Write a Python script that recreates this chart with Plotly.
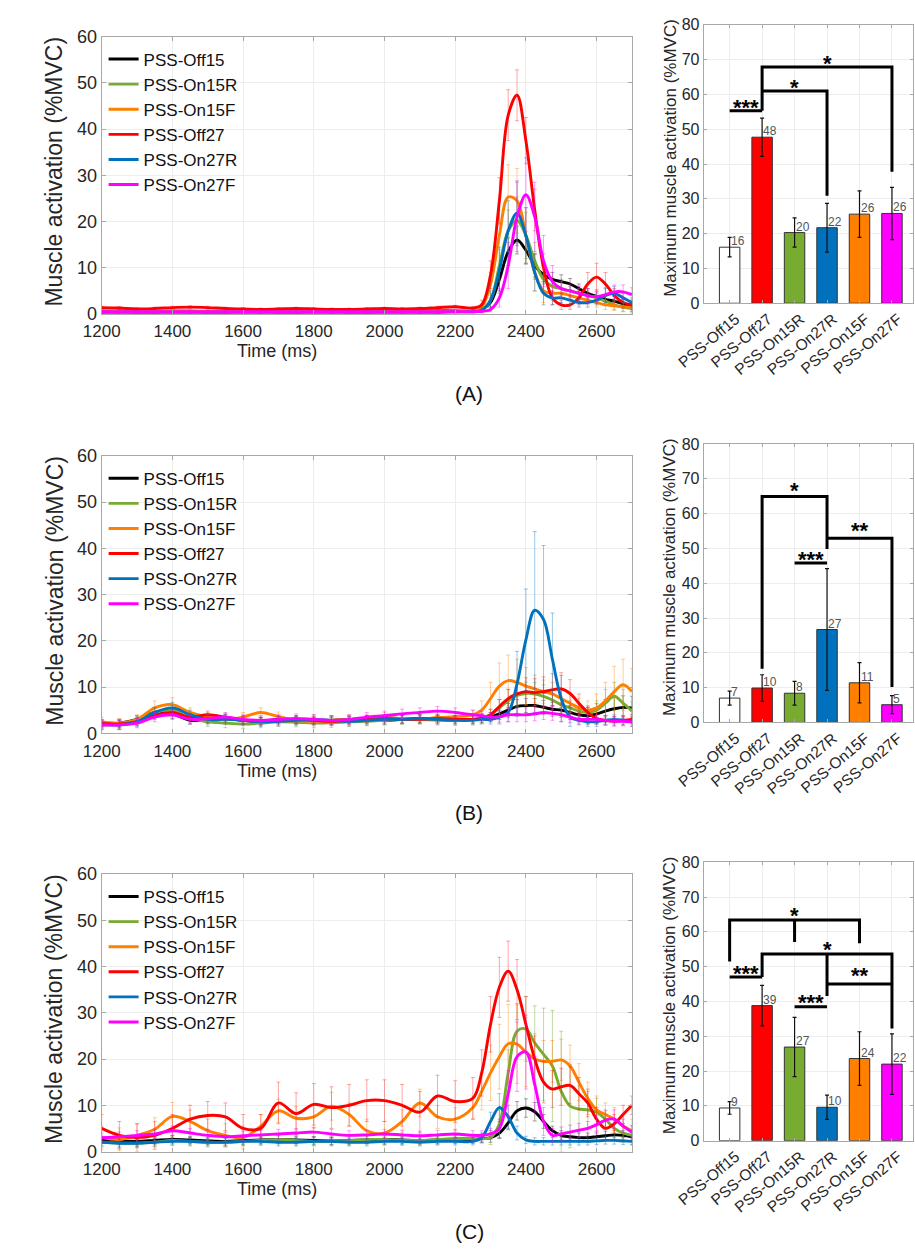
import plotly.graph_objects as go

# ---------------- data ----------------
T = [1200, 1250, 1300, 1350, 1400, 1450, 1500, 1550, 1600, 1650, 1700, 1750, 1800, 1850,
     1900, 1950, 2000, 2050, 2100, 2150, 2200, 2250, 2275, 2300, 2325, 2350, 2375, 2400,
     2425, 2450, 2475, 2500, 2525, 2550, 2575, 2600, 2625, 2650, 2675, 2700]

series_names = ['PSS-Off15', 'PSS-On15R', 'PSS-On15F', 'PSS-Off27', 'PSS-On27R', 'PSS-On27F']
series_colors = ['#000000', '#77AC30', '#FF7F00', '#FF0000', '#0072BD', '#FF00FF']
series_err_colors = ['rgba(0,0,0,0.35)', 'rgba(119,172,48,0.45)', 'rgba(255,127,0,0.4)',
                     'rgba(255,0,0,0.35)', 'rgba(0,114,189,0.4)', 'rgba(255,0,255,0.4)']

# Panel A
A_off15 = [0.6, 0.6, 0.5, 0.5, 0.6, 0.6, 0.5, 0.5, 0.6, 0.6, 0.5, 0.5, 0.6, 0.6, 0.5, 0.5, 0.6, 0.6, 0.6, 0.7, 0.7, 0.6,
           1.0, 2.5, 7.5, 13.5, 16.0, 13.8, 10.5, 8.5, 7.5, 7.0, 6.5, 5.5, 4.5, 3.8, 3.2, 2.8, 2.2, 1.6]
A_on15r = [0.5, 0.5, 0.5, 0.5, 0.5, 0.5, 0.5, 0.5, 0.5, 0.5, 0.5, 0.5, 0.5, 0.5, 0.5, 0.5, 0.5, 0.5, 0.5, 0.5, 0.6, 0.6,
           1.0, 3.0, 10.5, 18.0, 20.3, 17.0, 11.5, 7.5, 6.0, 5.5, 5.0, 4.5, 4.0, 3.5, 2.8, 2.0, 1.5, 1.2]
A_on15f = [0.6, 0.6, 0.6, 0.6, 0.6, 0.6, 0.6, 0.6, 0.6, 0.6, 0.6, 0.6, 0.6, 0.6, 0.6, 0.6, 0.6, 0.6, 0.6, 0.6, 0.7, 0.7,
           1.5, 6.5, 17.0, 25.3, 24.5, 17.0, 9.0, 5.0, 4.5, 4.5, 4.0, 3.5, 3.0, 2.5, 2.0, 1.8, 1.6, 1.5]
A_off27 = [1.4, 1.3, 1.1, 1.2, 1.4, 1.5, 1.4, 1.2, 1.1, 1.0, 1.1, 1.2, 1.1, 1.0, 1.0, 1.1, 1.2, 1.1, 1.2, 1.4, 1.6, 1.3,
           2.0, 8.5, 24.5, 43.0, 47.3, 37.5, 22.5, 10.0, 3.5, 2.0, 2.0, 3.5, 6.5, 8.0, 6.5, 4.0, 2.5, 2.0]
A_on27r = [0.4, 0.4, 0.4, 0.4, 0.4, 0.4, 0.4, 0.4, 0.4, 0.4, 0.4, 0.4, 0.4, 0.4, 0.4, 0.4, 0.4, 0.4, 0.4, 0.4, 0.5, 0.5,
           0.8, 3.0, 9.5, 18.0, 21.8, 17.0, 9.0, 4.5, 3.5, 3.5, 3.0, 2.5, 2.5, 3.0, 4.0, 4.5, 3.5, 2.5]
A_on27f = [0.5, 0.5, 0.5, 0.5, 0.5, 0.5, 0.5, 0.5, 0.5, 0.5, 0.5, 0.5, 0.5, 0.5, 0.5, 0.5, 0.5, 0.5, 0.5, 0.5, 0.5, 0.5,
           0.6, 1.0, 3.5, 10.5, 21.0, 25.8, 21.0, 11.5, 7.0, 5.5, 5.0, 4.5, 4.0, 3.8, 4.2, 4.8, 4.8, 4.2]

A_off15_err = [0.2, 0.2, 0.2, 0.2, 0.2, 0.2, 0.2, 0.2, 0.2, 0.2, 0.2, 0.2, 0.2, 0.2, 0.2, 0.2, 0.2, 0.2, 0.2, 0.2, 0.2, 0.2,
               0.5, 1.0, 2.5, 3.0, 3.0, 3.0, 2.5, 2.0, 1.5, 1.5, 1.2, 1.0, 1.0, 1.0, 1.0, 1.0, 1.0, 1.0]
A_on15r_err = [0.2, 0.2, 0.2, 0.2, 0.2, 0.2, 0.2, 0.2, 0.2, 0.2, 0.2, 0.2, 0.2, 0.2, 0.2, 0.2, 0.2, 0.2, 0.2, 0.2, 0.2, 0.2,
               0.5, 1.5, 3.5, 4.5, 5.0, 5.0, 4.0, 3.0, 2.0, 1.5, 1.0, 1.0, 1.0, 1.0, 1.0, 1.0, 1.0, 1.0]
A_on15f_err = [0.2, 0.2, 0.2, 0.2, 0.2, 0.2, 0.2, 0.2, 0.2, 0.2, 0.2, 0.2, 0.2, 0.2, 0.2, 0.2, 0.2, 0.2, 0.2, 0.2, 0.2, 0.2,
               0.8, 2.5, 5.5, 7.0, 7.0, 6.0, 4.0, 2.5, 1.5, 1.0, 1.0, 1.0, 1.0, 1.0, 1.0, 1.0, 1.0, 1.0]
A_off27_err = [0.3, 0.3, 0.3, 0.3, 0.3, 0.3, 0.3, 0.3, 0.3, 0.3, 0.3, 0.3, 0.3, 0.3, 0.3, 0.3, 0.3, 0.3, 0.3, 0.3, 0.3, 0.3,
               1.0, 3.0, 5.0, 5.5, 5.5, 5.0, 4.5, 3.0, 1.5, 1.0, 1.0, 1.5, 2.5, 3.0, 2.5, 1.5, 1.0, 1.0]
A_on27r_err = [0.2, 0.2, 0.2, 0.2, 0.2, 0.2, 0.2, 0.2, 0.2, 0.2, 0.2, 0.2, 0.2, 0.2, 0.2, 0.2, 0.2, 0.2, 0.2, 0.2, 0.2, 0.2,
               0.5, 2.0, 5.0, 6.5, 7.0, 6.0, 4.0, 2.5, 1.5, 1.0, 1.0, 1.0, 1.0, 1.0, 1.5, 1.5, 1.0, 1.0]
A_on27f_err = [0.2, 0.2, 0.2, 0.2, 0.2, 0.2, 0.2, 0.2, 0.2, 0.2, 0.2, 0.2, 0.2, 0.2, 0.2, 0.2, 0.2, 0.2, 0.2, 0.2, 0.2, 0.2,
               0.3, 0.5, 2.0, 5.0, 7.5, 8.0, 7.5, 5.5, 3.5, 2.0, 1.5, 1.5, 1.5, 1.5, 1.5, 1.5, 1.5, 1.5]

# Panel B
B_off15 = [2.0, 2.2, 3.0, 4.5, 4.2, 2.8, 3.0, 3.2, 2.8, 2.6, 3.0, 2.8, 2.6, 2.8, 3.0, 3.0, 2.8, 3.0, 3.2, 3.0, 3.0, 3.0,
           3.2, 3.5, 4.2, 5.0, 5.8, 6.0, 6.0, 5.6, 5.2, 5.0, 4.5, 4.0, 3.8, 4.2, 4.8, 5.3, 5.6, 5.5]
B_on15r = [1.8, 2.0, 2.8, 4.5, 5.0, 3.2, 2.5, 2.2, 2.0, 2.2, 2.5, 2.4, 2.2, 2.3, 2.5, 2.6, 2.8, 3.0, 3.0, 2.8, 2.8, 3.0,
           3.3, 4.0, 5.5, 7.0, 8.2, 8.6, 8.5, 8.0, 7.2, 6.2, 5.5, 4.8, 4.5, 5.0, 6.5, 8.0, 6.5, 4.8]
B_on15f = [2.5, 2.2, 3.0, 5.5, 6.2, 4.5, 3.5, 3.0, 3.5, 4.5, 3.6, 2.8, 2.6, 2.8, 3.0, 3.0, 3.5, 3.2, 3.0, 3.4, 3.6, 4.0,
           5.0, 7.5, 10.2, 11.4, 11.0, 10.2, 9.6, 9.0, 8.5, 7.5, 6.5, 5.5, 5.0, 5.5, 7.0, 9.0, 10.5, 9.0]
B_off27 = [2.2, 2.0, 2.5, 3.8, 4.5, 3.5, 4.0, 3.5, 2.8, 2.6, 2.8, 3.0, 2.8, 2.6, 2.8, 3.0, 3.2, 3.0, 3.0, 3.2, 3.0, 3.0,
           3.2, 4.0, 5.8, 7.5, 8.5, 9.0, 8.8, 9.0, 9.4, 9.6, 8.6, 6.5, 4.5, 3.2, 2.8, 2.6, 2.8, 3.0]
B_on27r = [2.0, 1.8, 2.5, 4.5, 5.5, 4.0, 3.0, 3.0, 2.8, 2.5, 2.6, 2.8, 3.0, 2.8, 2.6, 2.8, 3.0, 3.0, 3.2, 3.0, 2.8, 2.8,
           3.0, 3.0, 3.5, 4.5, 10.7, 20.2, 26.6, 24.6, 16.0, 7.5, 3.5, 2.8, 2.5, 2.5, 2.8, 3.0, 2.8, 2.5]
B_on27f = [1.8, 1.8, 2.2, 3.5, 4.0, 3.0, 3.2, 3.5, 3.0, 2.8, 3.0, 3.2, 3.0, 2.8, 3.0, 3.5, 3.8, 4.2, 4.5, 4.8, 4.5, 4.0,
           3.8, 3.5, 3.6, 4.0, 4.0, 4.0, 4.2, 4.5, 4.3, 4.0, 3.5, 3.0, 3.0, 3.0, 2.8, 2.6, 2.6, 2.5]

B_off15_err = [0.8, 0.8, 0.8, 1.0, 1.0, 0.8, 0.8, 0.8, 0.8, 0.8, 0.8, 0.8, 0.8, 0.8, 0.8, 0.8, 0.8, 0.8, 0.8, 0.8, 0.8, 0.8,
               0.8, 1.0, 1.2, 1.5, 1.5, 1.5, 1.5, 1.5, 1.5, 1.5, 1.5, 1.5, 1.8, 2.2, 2.5, 2.5, 2.5, 2.5]
B_on15r_err = [1.0, 1.0, 1.0, 1.2, 1.2, 1.0, 1.0, 1.0, 1.0, 1.0, 1.0, 1.0, 1.0, 1.0, 1.0, 1.0, 1.0, 1.0, 1.0, 1.0, 1.0, 1.0,
               1.0, 1.2, 1.8, 2.5, 2.5, 2.5, 2.5, 2.5, 2.0, 1.8, 1.5, 1.5, 1.5, 2.0, 3.0, 3.0, 3.0, 2.0]
B_on15f_err = [1.0, 1.0, 1.0, 1.5, 1.5, 1.0, 1.0, 1.0, 1.0, 1.0, 1.0, 1.0, 1.0, 1.0, 1.0, 1.0, 1.0, 1.0, 1.0, 1.0, 1.0, 1.0,
               2.0, 3.5, 5.0, 5.5, 5.0, 4.0, 3.0, 2.5, 2.5, 2.0, 2.0, 2.0, 2.0, 3.0, 4.0, 5.5, 5.5, 5.0]
B_off27_err = [0.8, 0.8, 0.8, 0.8, 0.8, 0.8, 0.8, 0.8, 0.8, 0.8, 0.8, 0.8, 0.8, 0.8, 0.8, 0.8, 0.8, 0.8, 0.8, 0.8, 0.8, 0.8,
               1.0, 1.2, 1.5, 2.0, 2.5, 3.0, 3.0, 3.2, 3.5, 3.5, 3.0, 2.0, 1.2, 1.0, 1.0, 1.0, 1.0, 1.0]
B_on27r_err = [1.0, 1.0, 1.0, 1.0, 1.2, 1.0, 1.0, 1.0, 1.0, 1.0, 1.0, 1.0, 1.0, 1.0, 1.0, 1.0, 1.0, 1.0, 1.0, 1.0, 1.0, 1.0,
               1.0, 1.0, 1.5, 2.0, 7.0, 11.0, 17.0, 16.0, 10.0, 5.0, 2.0, 1.0, 1.0, 1.0, 1.0, 1.0, 1.0, 1.0]
B_on27f_err = [1.0, 1.0, 1.0, 1.0, 1.0, 1.0, 1.0, 1.0, 1.0, 1.0, 1.0, 1.0, 1.0, 1.0, 1.0, 1.0, 1.0, 1.0, 1.0, 1.0, 1.0, 1.0,
               1.0, 1.0, 1.2, 1.5, 1.5, 1.5, 1.5, 1.5, 1.5, 1.5, 1.2, 1.0, 1.0, 1.0, 1.0, 1.0, 1.0, 1.0]

# Panel C
C_off15 = [2.5, 2.3, 2.2, 2.4, 2.6, 2.5, 2.3, 2.2, 2.4, 2.5, 2.6, 2.5, 2.4, 2.3, 2.4, 2.5, 2.6, 2.5, 2.4, 2.5, 2.6, 2.6,
           2.8, 3.0, 4.0, 6.2, 8.8, 9.4, 8.6, 6.5, 4.5, 3.5, 3.2, 3.0, 3.0, 3.2, 3.4, 3.6, 3.5, 3.2]
C_on15r = [2.0, 1.8, 1.8, 2.0, 2.4, 2.2, 2.0, 2.0, 2.2, 2.4, 2.6, 2.4, 2.2, 2.2, 2.4, 2.6, 2.6, 2.4, 2.4, 2.6, 2.8, 2.8,
           2.8, 3.0, 6.0, 17.0, 26.0, 26.5, 23.5, 21.0, 18.5, 13.0, 9.8, 9.2, 9.0, 8.5, 7.0, 5.0, 4.0, 3.5]
C_on15f = [3.0, 2.6, 3.5, 4.8, 7.6, 6.5, 4.5, 3.5, 3.0, 5.5, 8.8, 7.2, 7.5, 9.8, 8.0, 4.5, 4.0, 6.5, 10.5, 7.5, 7.0, 9.5,
           13.0, 17.0, 20.5, 23.3, 23.2, 21.5, 20.0, 19.5, 19.5, 19.8, 18.5, 15.0, 11.5, 9.0, 8.0, 7.0, 5.5, 4.5]
C_off27 = [5.0, 3.5, 3.0, 3.5, 5.0, 7.0, 7.8, 7.5, 5.0, 5.0, 10.5, 8.2, 10.2, 9.5, 10.0, 11.0, 11.0, 10.0, 8.5, 12.0, 10.8, 11.5,
           17.0, 27.5, 35.5, 39.0, 35.0, 27.5, 20.0, 15.0, 13.5, 14.0, 14.3, 12.5, 10.5, 7.0, 5.0, 6.0, 8.0, 10.0]
C_on27r = [2.0, 1.8, 1.8, 2.0, 2.2, 2.2, 2.0, 2.0, 2.2, 2.2, 2.0, 2.0, 2.2, 2.2, 2.0, 2.0, 2.2, 2.2, 2.0, 2.2, 2.2, 2.2,
           3.0, 6.5, 9.5, 7.5, 4.0, 2.5, 2.2, 2.2, 2.2, 2.2, 2.2, 2.2, 2.2, 2.3, 2.4, 2.4, 2.3, 2.2]
C_on27f = [3.0, 3.2, 3.5, 3.8, 4.5, 4.0, 3.5, 3.2, 3.4, 3.6, 3.8, 4.0, 4.2, 3.8, 3.5, 3.6, 3.8, 3.6, 3.4, 3.6, 3.8, 3.5,
           3.5, 3.8, 5.0, 12.5, 20.5, 21.5, 14.5, 6.5, 3.5, 3.8, 4.2, 4.6, 5.0, 5.8, 6.8, 7.0, 5.5, 4.2]

C_off15_err = [0.8, 0.8, 0.8, 0.8, 0.8, 0.8, 0.8, 0.8, 0.8, 0.8, 0.8, 0.8, 0.8, 0.8, 0.8, 0.8, 0.8, 0.8, 0.8, 0.8, 0.8, 0.8,
               0.8, 1.0, 1.2, 1.5, 2.0, 2.0, 2.0, 1.5, 1.0, 1.0, 1.0, 1.0, 1.0, 1.0, 1.0, 1.0, 1.0, 1.0]
C_on15r_err = [1.0, 1.0, 1.0, 1.0, 1.0, 1.0, 1.0, 1.0, 1.0, 1.0, 1.0, 1.0, 1.0, 1.0, 1.0, 1.0, 1.0, 1.0, 1.0, 1.0, 1.0, 1.0,
               1.0, 1.5, 3.0, 5.0, 6.0, 7.0, 8.0, 10.0, 12.0, 13.0, 9.0, 5.0, 4.0, 3.0, 2.0, 2.0, 2.0, 2.0]
C_on15f_err = [2.5, 2.5, 2.5, 2.5, 3.0, 2.5, 2.5, 2.5, 2.5, 2.5, 2.5, 2.5, 2.5, 3.0, 2.5, 2.5, 2.5, 2.5, 3.0, 2.5, 2.5, 2.5,
               4.0, 6.0, 7.0, 8.5, 8.5, 7.5, 5.5, 4.5, 4.5, 4.5, 4.5, 4.0, 3.5, 3.0, 2.5, 2.5, 2.5, 2.5]
C_off27_err = [3.0, 3.0, 3.0, 3.0, 3.0, 3.0, 3.0, 3.0, 3.0, 3.0, 4.5, 4.5, 4.5, 4.5, 4.5, 4.5, 4.5, 4.5, 4.5, 4.5, 4.5, 4.5,
               5.0, 6.0, 6.5, 6.5, 6.5, 6.0, 5.0, 4.5, 4.0, 4.0, 4.0, 3.5, 3.0, 2.5, 2.0, 2.0, 2.0, 2.0]
C_on27r_err = [0.8, 0.8, 0.8, 0.8, 0.8, 0.8, 0.8, 0.8, 0.8, 0.8, 0.8, 0.8, 0.8, 0.8, 0.8, 0.8, 0.8, 0.8, 0.8, 0.8, 0.8, 0.8,
               1.0, 2.0, 3.0, 2.5, 1.5, 0.8, 0.8, 0.8, 0.8, 0.8, 0.8, 0.8, 0.8, 0.8, 0.8, 0.8, 0.8, 0.8]
C_on27f_err = [1.0, 1.0, 1.0, 1.0, 1.0, 1.0, 1.0, 1.0, 1.0, 1.0, 1.0, 1.0, 1.0, 1.0, 1.0, 1.0, 1.0, 1.0, 1.0, 1.0, 1.0, 1.0,
               1.0, 1.2, 2.0, 5.0, 7.5, 8.0, 6.0, 3.0, 1.5, 1.5, 1.5, 1.5, 1.5, 2.0, 2.0, 2.0, 1.5, 1.5]

# Bar charts (maximum activation)
bar_labels = ['PSS-Off15', 'PSS-Off27', 'PSS-On15R', 'PSS-On27R', 'PSS-On15F', 'PSS-On27F']
bar_colors = ['#FFFFFF', '#FF0000', '#77AC30', '#0072BD', '#FF7F00', '#FF00FF']
A_max = [16.1, 47.7, 20.3, 21.7, 25.6, 25.8]
A_max_err = [2.8, 5.5, 4.2, 7.0, 6.7, 7.5]
B_max = [7.0, 9.9, 8.4, 26.7, 11.4, 5.1]
B_max_err = [2.0, 3.8, 3.4, 17.5, 5.8, 2.6]
C_max = [9.4, 38.8, 26.9, 9.6, 23.6, 22.0]
C_max_err = [1.8, 5.8, 8.5, 3.5, 7.7, 8.7]

# Significance brackets (polylines in bar-axis data coordinates) and star labels
A_sig_lines = [[(1, 55.3), (2, 55.3)],
               [(2, 55.3), (2, 67.9), (6, 67.9), (6, 37.8)],
               [(2, 61.0), (4, 61.0), (4, 30.9)]]
A_sig_text = [(1.5, 57.8, '***'), (3, 63.3, '*'), (4, 70.3, '*')]
B_sig_lines = [[(2, 15.4), (2, 64.9), (4, 64.9), (4, 49.8)],
               [(4, 52.9), (6, 52.9), (6, 10.2)],
               [(3, 45.8), (4, 45.8)]]
B_sig_text = [(3, 68.0, '*'), (5, 56.5, '**'), (3.5, 48.3, '***')]
C_sig_lines = [[(1, 51.5), (1, 63.4), (5, 63.4), (5, 56.7)],
               [(3, 63.4), (3, 57.1)],
               [(2, 47.0), (2, 53.6), (6, 53.6), (6, 32.2)],
               [(4, 53.6), (4, 41.6)],
               [(4, 45.0), (6, 45.0)],
               [(1, 47.0), (2, 47.0)],
               [(3, 38.5), (4, 38.5)]]
C_sig_text = [(3, 66.2, '*'), (4, 56.5, '*'), (5, 48.9, '**'), (1.5, 49.4, '***'), (3.5, 41.0, '***')]

panel_letters = ['(A)', '(B)', '(C)']

# ---------------- figure ----------------
W, H = 915, 1255
FONT = 'Liberation Sans, Arial, sans-serif'
TXT = '#262626'


def fx(p):
    return p / W


def fy(p):
    return 1 - p / H


line_rows = [(27, 309), (453, 735), (878, 1160)]
bar_rows = [(15, 298), (441, 724), (866, 1149)]
line_xdom = [fx(76), fx(623)]
bar_xdom = [fx(697), fx(913)]

panels = [
    ([A_off15, A_on15r, A_on15f, A_off27, A_on27r, A_on27f],
     [A_off15_err, A_on15r_err, A_on15f_err, A_off27_err, A_on27r_err, A_on27f_err],
     A_max, A_max_err, A_sig_lines, A_sig_text),
    ([B_off15, B_on15r, B_on15f, B_off27, B_on27r, B_on27f],
     [B_off15_err, B_on15r_err, B_on15f_err, B_off27_err, B_on27r_err, B_on27f_err],
     B_max, B_max_err, B_sig_lines, B_sig_text),
    ([C_off15, C_on15r, C_on15f, C_off27, C_on27r, C_on27f],
     [C_off15_err, C_on15r_err, C_on15f_err, C_off27_err, C_on27r_err, C_on27f_err],
     C_max, C_max_err, C_sig_lines, C_sig_text),
]

fig = go.Figure()
annotations = []
layout_axes = {}
legends = {}

for r, (vals, errs, bmax, berr, slines, stext) in enumerate(panels):
    li = 2 * r + 1
    bi = 2 * r + 2
    lx = 'x' if li == 1 else f'x{li}'
    ly = 'y' if li == 1 else f'y{li}'
    bx = f'x{bi}'
    by = f'y{bi}'
    leg = 'legend' if r == 0 else f'legend{r + 1}'

    for k in range(6):
        fig.add_trace(go.Scatter(
            x=T, y=vals[k], mode='lines', name=series_names[k],
            line=dict(color=series_colors[k], width=2.9, shape='spline', smoothing=1.0),
            error_y=dict(type='data', array=errs[k], color=series_err_colors[k], thickness=1, width=2),
            xaxis=lx, yaxis=ly, legend=leg))

    fig.add_trace(go.Bar(
        x=list(range(1, 7)), y=bmax, width=0.63,
        marker=dict(color=bar_colors, line=dict(color='#333333', width=1)),
        error_y=dict(type='data', array=berr, color='#111111', thickness=1.2, width=2),
        xaxis=bx, yaxis=by, showlegend=False, hoverinfo='skip'))

    for poly in slines:
        fig.add_trace(go.Scatter(
            x=[p[0] for p in poly], y=[p[1] for p in poly], mode='lines',
            line=dict(color='black', width=3), xaxis=bx, yaxis=by,
            showlegend=False, hoverinfo='skip'))

    for (sx, sy, st) in stext:
        annotations.append(dict(x=sx, y=sy, xref=bx, yref=by, text=f'<b>{st}</b>', showarrow=False,
                                font=dict(family=FONT, size=22, color='black'),
                                xanchor='center', yanchor='middle', yshift=-5))

    for i, v in enumerate(bmax):
        annotations.append(dict(x=i + 1, y=v, xref=bx, yref=by, text=str(int(round(v))), showarrow=False,
                                font=dict(family=FONT, size=12, color='#555555'),
                                xanchor='left', yanchor='bottom', xshift=-1, yshift=-3))

    top, bot = line_rows[r]
    btop, bbot = bar_rows[r]
    layout_axes['xaxis' if li == 1 else f'xaxis{li}'] = dict(
        domain=line_xdom, anchor=ly, range=[1200, 2700], tickvals=list(range(1200, 2700, 200)),
        showgrid=True, gridcolor='#EDEDED', zeroline=False, showline=True, linecolor='#A8A8A8',
        mirror='ticks', ticks='inside', ticklen=4, tickcolor='#A8A8A8', ticklabelstandoff=2,
        tickfont=dict(family=FONT, size=17, color=TXT))
    layout_axes['yaxis' if li == 1 else f'yaxis{li}'] = dict(
        domain=[fy(bot), fy(top)], anchor=lx, range=[0, 60], dtick=10,
        showgrid=True, gridcolor='#EDEDED', zeroline=False, showline=True, linecolor='#A8A8A8',
        mirror='ticks', ticks='inside', ticklen=4, tickcolor='#A8A8A8',
        tickfont=dict(family=FONT, size=18, color=TXT))
    layout_axes[f'xaxis{bi}'] = dict(
        domain=bar_xdom, anchor=by, range=[0.2, 6.65], tickvals=list(range(1, 7)), ticktext=bar_labels,
        tickangle=-40, ticklabelshift=6, showgrid=True, gridcolor='#EDEDED', zeroline=False, showline=True,
        linecolor='#A8A8A8', mirror='ticks', ticks='inside', ticklen=3, tickcolor='#A8A8A8',
        tickfont=dict(family=FONT, size=15.5, color=TXT))
    layout_axes[f'yaxis{bi}'] = dict(
        domain=[fy(bbot), fy(btop)], anchor=bx, range=[0, 80], dtick=10,
        showgrid=True, gridcolor='#EDEDED', zeroline=False, showline=True, linecolor='#A8A8A8',
        mirror='ticks', ticks='inside', ticklen=3, tickcolor='#A8A8A8',
        tickfont=dict(family=FONT, size=16, color=TXT))

    legends[leg] = dict(x=fx(78), y=fy(top + 5), xanchor='left', yanchor='top',
                        bgcolor='rgba(0,0,0,0)', borderwidth=0, itemwidth=30, tracegroupgap=0,
                        font=dict(family=FONT, size=17, color='#111111'))

    # axis titles & panel labels
    annotations.append(dict(x=fx(27), y=fy((top + bot) / 2 - 4), xref='paper', yref='paper',
                            text='Muscle activation (%MVC)', textangle=-90, showarrow=False,
                            font=dict(family=FONT, size=23, color=TXT), xanchor='center', yanchor='middle'))
    annotations.append(dict(x=fx(257), y=fy(bot + 38), xref='paper', yref='paper',
                            text='Time (ms)', showarrow=False,
                            font=dict(family=FONT, size=18, color=TXT), xanchor='center', yanchor='middle'))
    annotations.append(dict(x=fx(662), y=fy((btop + bbot) / 2 - 6), xref='paper', yref='paper',
                            text='Maximum muscle activation (%MVC)', textangle=-90, showarrow=False,
                            font=dict(family=FONT, size=17, color=TXT), xanchor='center', yanchor='middle'))
    annotations.append(dict(x=fx(455), y=fy(bot + 81), xref='paper', yref='paper',
                            text=panel_letters[r], showarrow=False,
                            font=dict(family=FONT, size=21, color='#111111'), xanchor='center', yanchor='middle'))

fig.update_layout(
    width=W, height=H, margin=dict(l=0, r=0, t=0, b=0),
    paper_bgcolor='white', plot_bgcolor='white',
    font=dict(family=FONT, color=TXT),
    bargap=0.2, annotations=annotations, **layout_axes, **legends)

fig.write_html('out.html', config={'displayModeBar': False},
               post_script="document.body.style.margin='0px';")
